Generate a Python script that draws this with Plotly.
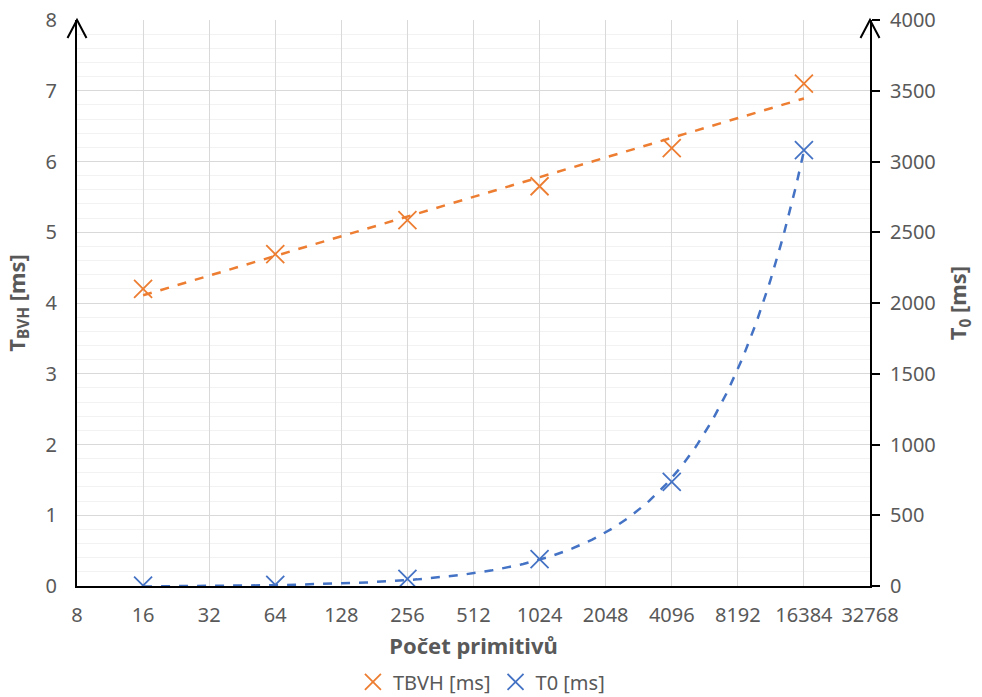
import numpy as np
import plotly.graph_objects as go

# Data
primitives = [16, 64, 256, 1024, 4096, 16384]
t_bvh = [4.2, 4.69, 5.17, 5.65, 6.19, 7.1]
t0 = [3, 8, 50, 190, 736, 3080]
x_ticks = [8, 16, 32, 64, 128, 256, 512, 1024, 2048, 4096, 8192, 16384, 32768]

ORANGE = "#ED7D31"
BLUE = "#4472C4"
TXT = "#595959"
FONT = "Noto Sans"

# Trendlines (fitted from data)
xs = np.geomspace(primitives[0], primitives[-1], 300)
a, b = np.polyfit(np.log(primitives), t_bvh, 1)
trend_bvh = a * np.log(xs) + b
m, c = np.polyfit(primitives, t0, 1)
trend_t0 = m * xs + c

fig = go.Figure()
fig.add_trace(go.Scatter(x=xs, y=trend_bvh, mode="lines", yaxis="y",
                         line=dict(color=ORANGE, width=2.5, dash="dash"),
                         showlegend=False, hoverinfo="skip"))
fig.add_trace(go.Scatter(x=xs, y=trend_t0, mode="lines", yaxis="y2",
                         line=dict(color=BLUE, width=2.5, dash="dash"),
                         showlegend=False, hoverinfo="skip"))
fig.add_trace(go.Scatter(x=primitives, y=t_bvh, mode="markers", name="TBVH [ms]",
                         yaxis="y",
                         marker=dict(symbol="x-thin-open", size=18, color=ORANGE,
                                     line=dict(color=ORANGE, width=1.8))))
fig.add_trace(go.Scatter(x=primitives, y=t0, mode="markers", name="T0 [ms]",
                         yaxis="y2",
                         marker=dict(symbol="x-thin-open", size=18, color=BLUE,
                                     line=dict(color=BLUE, width=1.8))))

fig.update_layout(
    width=982, height=697,
    margin=dict(l=77, r=112, t=20, b=111, autoexpand=False),
    paper_bgcolor="white", plot_bgcolor="white",
    font=dict(family=FONT, size=20, color=TXT),
    xaxis=dict(type="log", range=[np.log10(8), np.log10(32768)],
               tickvals=x_ticks, ticktext=[str(v) for v in x_ticks],
               showgrid=True, gridcolor="#d9d9d9", gridwidth=1.3,
               showline=True, linecolor="black", linewidth=2,
               ticks="", zeroline=False, automargin=False,
               ticklabelstandoff=10,
               title=dict(text="<b>Počet primitivů</b>", font=dict(size=22, color=TXT), standoff=12),
               tickfont=dict(size=20, color=TXT)),
    yaxis=dict(range=[0, 8], dtick=1, showgrid=True, gridcolor="#d9d9d9", gridwidth=1.3,
               minor=dict(dtick=0.2, showgrid=True, gridcolor="#f2f2f2", gridwidth=1),
               showline=True, linecolor="black", linewidth=2, zeroline=False,
               ticks="", automargin=False, ticklabelstandoff=14,
               title=dict(text="<b>T<sub>BVH</sub> [ms]</b>", font=dict(size=22, color=TXT), standoff=14),
               tickfont=dict(size=20, color=TXT)),
    yaxis2=dict(range=[0, 4000], dtick=500, overlaying="y", side="right",
                showgrid=False, zeroline=False, automargin=False,
                showline=True, linecolor="black", linewidth=2,
                ticks="outside", ticklen=8, tickwidth=2, tickcolor="black",
                ticklabelstandoff=6,
                title=dict(text="<b>T<sub>0</sub> [ms]</b>", font=dict(size=22, color=TXT), standoff=16),
                tickfont=dict(size=20, color=TXT)),
    legend=dict(orientation="h", x=0.51, xanchor="center", y=-0.135, yanchor="top",
                font=dict(size=20, color=TXT), itemwidth=30, tracegroupgap=0),
    showlegend=True,
)

# Arrowheads on the top of both vertical axes
for xd in (0, 1):
    fig.add_shape(type="path", xref="x domain", yref="y domain",
                  xsizemode="pixel", ysizemode="pixel", xanchor=xd, yanchor=1,
                  path="M-9.5,-18 L0,0 L9.5,-18",
                  line=dict(color="black", width=2))

fig.write_html("out.html")
